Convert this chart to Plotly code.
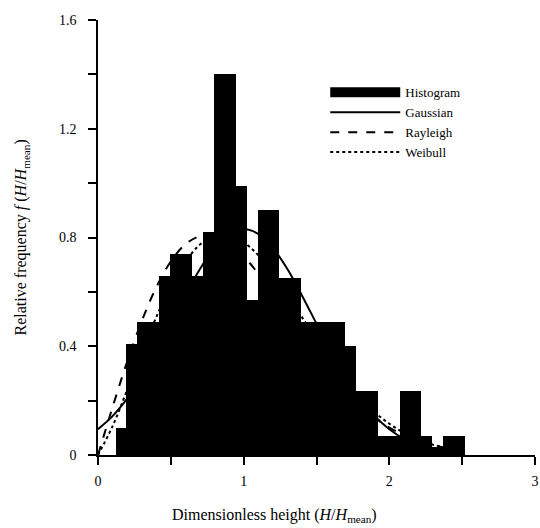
import plotly.graph_objects as go

# Histogram bins (centres, width 0.075) and relative frequencies
bin_centers = [0.158, 0.233, 0.308, 0.383, 0.458, 0.533, 0.608, 0.683,
               0.758, 0.833, 0.908, 0.983, 1.058, 1.133, 1.208, 1.283,
               1.358, 1.433, 1.508, 1.583, 1.658, 1.733, 1.808, 1.883,
               1.958, 2.033, 2.108, 2.183, 2.258, 2.333, 2.408, 2.483]
hist_freq = [0.10, 0.41, 0.49, 0.49, 0.66, 0.74, 0.74, 0.66,
             0.82, 1.40, 1.40, 0.99, 0.57, 0.90, 0.90, 0.65,
             0.65, 0.49, 0.49, 0.49, 0.49, 0.40, 0.235, 0.235,
             0.07, 0.07, 0.235, 0.235, 0.07, 0.03, 0.07, 0.07]
bin_width = 0.075

# Fitted curves
curve_x = [0.0, 0.1, 0.2, 0.3, 0.4, 0.5, 0.6, 0.7, 0.8, 0.9, 1.0, 1.1, 1.2,
           1.3, 1.4, 1.5, 1.6, 1.7, 1.8, 1.9, 2.0, 2.1, 2.2, 2.3, 2.4, 2.5]
gaussian = [0.095, 0.143, 0.207, 0.287, 0.381, 0.483, 0.587, 0.684, 0.762,
            0.813, 0.831, 0.813, 0.762, 0.684, 0.587, 0.483, 0.381, 0.287,
            0.207, 0.143, 0.095, 0.060, 0.036, 0.021, 0.012, 0.006]
rayleigh = [0.0, 0.176, 0.343, 0.492, 0.617, 0.712, 0.775, 0.805, 0.805,
            0.779, 0.731, 0.667, 0.593, 0.514, 0.436, 0.361, 0.293, 0.232,
            0.180, 0.137, 0.101, 0.074, 0.053, 0.037, 0.025, 0.017]
weibull = [0.0, 0.106, 0.239, 0.376, 0.507, 0.621, 0.711, 0.774, 0.807,
           0.809, 0.783, 0.735, 0.668, 0.590, 0.507, 0.423, 0.344, 0.272,
           0.209, 0.157, 0.115, 0.082, 0.057, 0.038, 0.025, 0.016]

x_ticks = [0, 1, 2, 3]
y_ticks = [0, 0.4, 0.8, 1.2, 1.6]
y_tick_text = ["0", "0.4", "0.8", "1.2", "1.6"]

FONT = "Liberation Serif, Times New Roman, serif"

fig = go.Figure()
fig.add_trace(go.Bar(x=bin_centers, y=hist_freq, width=bin_width,
                     marker=dict(color="black", line=dict(width=0)),
                     showlegend=False, name="Histogram"))
# legend swatch for the histogram (legend-only)
fig.add_trace(go.Scatter(x=[None], y=[None], mode="lines", name="Histogram",
                         line=dict(color="black", width=14)))
fig.add_trace(go.Scatter(x=curve_x, y=gaussian, mode="lines", name="Gaussian",
                         line=dict(color="black", width=2, shape="spline")))
fig.add_trace(go.Scatter(x=curve_x, y=rayleigh, mode="lines", name="Rayleigh",
                         line=dict(color="black", width=2, dash="dash", shape="spline")))
fig.add_trace(go.Scatter(x=curve_x, y=weibull, mode="lines", name="Weibull",
                         line=dict(color="black", width=2, dash="dot", shape="spline")))

axis_common = dict(showline=True, linecolor="black", linewidth=1.5,
                   ticks="outside", ticklen=8, tickwidth=1.5, tickcolor="black",
                   showgrid=False, zeroline=False, mirror=False,
                   tickfont=dict(family=FONT, size=14, color="black"))

fig.update_xaxes(range=[0, 3], tickvals=x_ticks, ticklabelstandoff=4,
                 minor=dict(dtick=0.5, tick0=0, ticks="outside", ticklen=8,
                            tickwidth=1.5, tickcolor="black", showgrid=False),
                 **axis_common)
fig.update_yaxes(range=[0, 1.6], tickvals=y_ticks, ticktext=y_tick_text,
                 ticklabelstandoff=9,
                 minor=dict(dtick=0.2, tick0=0, ticks="outside", ticklen=8,
                            tickwidth=1.5, tickcolor="black", showgrid=False),
                 **axis_common)

fig.add_annotation(text="Dimensionless height (<i>H</i>/<i>H</i><sub>mean</sub>)",
                   xref="paper", yref="paper", x=0.405, y=-0.138,
                   xanchor="center", yanchor="middle", showarrow=False,
                   font=dict(family=FONT, size=16, color="black"))
fig.add_annotation(text="Relative frequency <i>f</i> (<i>H</i>/<i>H</i><sub>mean</sub>)",
                   xref="paper", yref="paper", x=-0.174, y=0.5, textangle=-90,
                   xanchor="center", yanchor="middle", showarrow=False,
                   font=dict(family=FONT, size=16, color="black"))

fig.update_layout(
    template="none",
    width=540, height=528,
    margin=dict(l=98, r=5, t=20, b=73),
    paper_bgcolor="white", plot_bgcolor="white",
    font=dict(family=FONT, color="black"),
    bargap=0,
    legend=dict(x=0.52, y=0.868, xanchor="left", yanchor="top",
                itemwidth=70, bgcolor="rgba(0,0,0,0)",
                font=dict(family=FONT, size=13, color="black"),
                tracegroupgap=0),
)

fig.write_html("out.html")
